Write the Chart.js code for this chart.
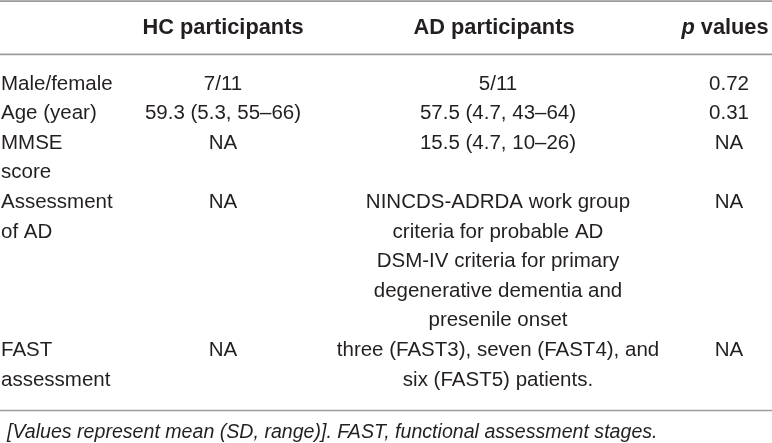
<!DOCTYPE html>
<html>
<head>
<meta charset="utf-8">
<script src="https://cdn.jsdelivr.net/npm/chart.js@4.4.1/dist/chart.umd.min.js"></script>
<style>
body{margin:0;background:#fff;}
#wrap{width:772px;height:443px;}
</style>
</head>
<body>
<div id="wrap"><canvas id="tabela" width="772" height="443"></canvas></div>
<script>
// dados da tabela
const colunas = ['', 'HC participants', 'AD participants', 'p values'];
const rotulos = [['Male/female'], ['Age (year)'], ['MMSE', 'score'], ['Assessment', 'of AD'], ['FAST', 'assessment']];
const valoresHC = [['7/11'], ['59.3 (5.3, 55–66)'], ['NA'], ['NA'], ['NA']];
const valoresAD = [
  ['5/11'],
  ['57.5 (4.7, 43–64)'],
  ['15.5 (4.7, 10–26)'],
  ['NINCDS-ADRDA work group', 'criteria for probable AD', 'DSM-IV criteria for primary', 'degenerative dementia and', 'presenile onset'],
  ['three (FAST3), seven (FAST4), and', 'six (FAST5) patients.']
];
const valoresP = [['0.72'], ['0.31'], ['NA'], ['NA'], ['NA']];
const nota = '[Values represent mean (SD, range)]. FAST, functional assessment stages.';

// layout
const FONTE = '"Liberation Sans", Arial, sans-serif';
const COR = '#231f20';
const posX = [1, 223, 498, 729];
const alinh = ['left', 'center', 'center', 'center'];
const posXCab = [1, 223, 494, 725];
const NEGRITO = 'bold 21.8px ';

// monta linhas (cada linha de texto = 1 unidade no eixo y)
const corpo = [rotulos, valoresHC, valoresAD, valoresP];
let inicio = [];
let l = 0;
rotulos.forEach((r, i) => {
  inicio.push(l);
  const n = Math.max(...corpo.map(c => c[i].length));
  l += n;
});
const totalLinhas = l;

const datasets = corpo.map((col, c) => {
  const pts = [];
  col.forEach((cel, i) => {
    cel.forEach((txt, k) => pts.push({x: posX[c], y: inicio[i] + k, texto: txt}));
  });
  return {label: colunas[c] || 'rotulo', data: pts, pointRadius: 0, alinhar: alinh[c]};
});
datasets.push({
  label: 'cabecalho',
  data: colunas.map((t, c) => ({x: posXCab[c], y: -1.89, texto: t})),
  pointRadius: 0, cabecalho: true
});
datasets.push({
  label: 'nota',
  data: [{x: 7, y: totalLinhas + 0.76, texto: nota}],
  pointRadius: 0, nota: true
});

const regras = [-2.8, -1.0, totalLinhas + 0.03];

const pluginTabela = {
  id: 'tabela',
  afterDatasetsDraw(chart) {
    const ctx = chart.ctx;
    const sx = chart.scales.x, sy = chart.scales.y;
    ctx.save();
    // linhas horizontais
    ctx.strokeStyle = '#9b9b9b';
    ctx.lineWidth = 1.6;
    regras.forEach(v => {
      const y = sy.getPixelForValue(v);
      ctx.beginPath();
      ctx.moveTo(sx.getPixelForValue(0), y);
      ctx.lineTo(sx.getPixelForValue(772), y);
      ctx.stroke();
    });
    ctx.fillStyle = COR;
    ctx.textBaseline = 'middle';
    chart.data.datasets.forEach((ds, d) => {
      const meta = chart.getDatasetMeta(d);
      meta.data.forEach((el, j) => {
        const p = ds.data[j];
        if (!p.texto) return;
        if (ds.cabecalho) {
          ctx.textAlign = 'left';
          if (p.texto === 'p values') {
            ctx.font = 'italic ' + NEGRITO + FONTE;
            const w1 = ctx.measureText('p').width;
            ctx.font = NEGRITO + FONTE;
            const w2 = ctx.measureText(' values').width;
            let x0 = el.x - (w1 + w2) / 2;
            ctx.font = 'italic ' + NEGRITO + FONTE;
            ctx.fillText('p', x0, el.y);
            ctx.font = NEGRITO + FONTE;
            ctx.fillText(' values', x0 + w1, el.y);
          } else {
            ctx.font = NEGRITO + FONTE;
            ctx.textAlign = 'center';
            ctx.fillText(p.texto, el.x, el.y);
          }
        } else if (ds.nota) {
          ctx.font = 'italic 19.6px ' + FONTE;
          ctx.textAlign = 'left';
          ctx.fillText(p.texto, el.x, el.y);
        } else {
          ctx.font = '20.5px ' + FONTE;
          ctx.textAlign = ds.alinhar;
          ctx.fillText(p.texto, el.x, el.y);
        }
      });
    });
    ctx.restore();
  }
};

new Chart(document.getElementById('tabela'), {
  type: 'scatter',
  data: {datasets: datasets},
  options: {
    responsive: false,
    animation: false,
    events: [],
    layout: {padding: 0},
    plugins: {legend: {display: false}, tooltip: {enabled: false}},
    scales: {
      x: {type: 'linear', min: 0, max: 772, display: false},
      y: {type: 'linear', min: -84 / 29.6, max: (443 - 84) / 29.6, reverse: true, display: false}
    }
  },
  plugins: [pluginTabela]
});
</script>
</body>
</html>
